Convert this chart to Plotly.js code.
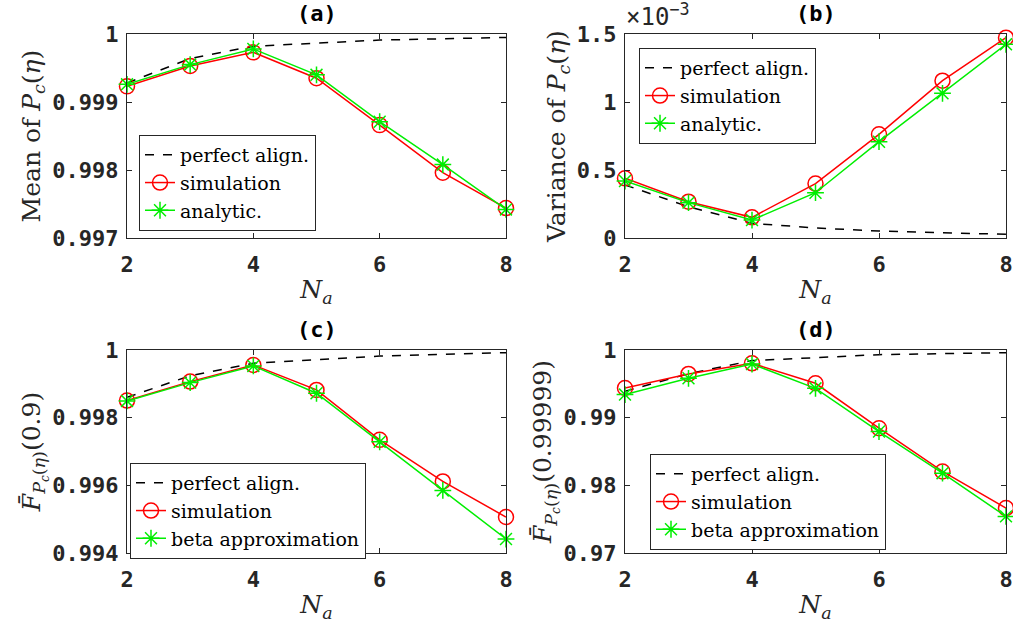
<!DOCTYPE html>
<html><head><meta charset="utf-8">
<script src="https://cdn.plot.ly/plotly-3.0.1.min.js"></script>
<style>html,body{margin:0;padding:0;background:#fff}</style>
</head><body><div id="chart" style="width:1013px;height:628px"></div>
<script>
const Na = [2, 3, 4, 5, 6, 7, 8];
const xTicks = [2, 4, 6, 8];

// (a) Mean of Pc(eta)
const meanPerfect = [0.99928, 0.99964, 0.99982, 0.99987, 0.99991, 0.99993, 0.99995];
const meanSim     = [0.99923, 0.99953, 0.99973, 0.99935, 0.99866, 0.99796, 0.99744];
const meanAna     = [0.99926, 0.99955, 0.99978, 0.99940, 0.99871, 0.99808, 0.99742];
const meanTicks = [0.997, 0.998, 0.999, 1];
const meanTickText = ['0.997', '0.998', '0.999', '1'];

// (b) Variance of Pc(eta), in units of 1e-3
const varPerfect = [0.39, 0.23, 0.108, 0.074, 0.051, 0.039, 0.027];
const varSim     = [0.439, 0.267, 0.152, 0.40, 0.762, 1.157, 1.473];
const varAna     = [0.419, 0.26, 0.132, 0.333, 0.708, 1.064, 1.424];
const varTicks = [0, 0.5, 1, 1.5];
const varTickText = ['0', '0.5', '1', '1.5'];

// (c) F-bar(0.9)
const f09Perfect = [0.99860, 0.99924, 0.99961, 0.99971, 0.99982, 0.99987, 0.99992];
const f09Sim     = [0.998505, 0.999066, 0.999557, 0.99882, 0.997344, 0.996115, 0.995063];
const f09Beta    = [0.998495, 0.999036, 0.999528, 0.998721, 0.997285, 0.995849, 0.994413];
const f09Ticks = [0.994, 0.996, 0.998, 1];
const f09TickText = ['0.994', '0.996', '0.998', '1'];

// (d) F-bar(0.99999)
const fhiPerfect = [0.9939, 0.9965, 0.99843, 0.99887, 0.99931, 0.99946, 0.99961];
const fhiSim     = [0.99439, 0.99646, 0.99803, 0.99508, 0.98844, 0.98205, 0.97664];
const fhiBeta    = [0.99341, 0.99582, 0.99793, 0.99434, 0.98795, 0.98180, 0.97541];
const fhiTicks = [0.97, 0.98, 0.99, 1];
const fhiTickText = ['0.97', '0.98', '0.99', '1'];

const panelTitles = ['(a)', '(b)', '(c)', '(d)'];
const legendNames = [
  ['perfect align.', 'simulation', 'analytic.'],
  ['perfect align.', 'simulation', 'analytic.'],
  ['perfect align.', 'simulation', 'beta approximation'],
  ['perfect align.', 'simulation', 'beta approximation']
];

const serif = 'DejaVu Serif, Liberation Serif, serif';
const mono = 'DejaVu Sans Mono, Liberation Mono, monospace';
const axCol = '#262626';

const panels = [
  {p: meanPerfect, s: meanSim, a: meanAna},
  {p: varPerfect, s: varSim, a: varAna},
  {p: f09Perfect, s: f09Sim, a: f09Beta},
  {p: fhiPerfect, s: fhiSim, a: fhiBeta}
];

const traces = [];
panels.forEach((pn, i) => {
  const xa = 'x' + (i === 0 ? '' : i + 1);
  const ya = 'y' + (i === 0 ? '' : i + 1);
  const lg = 'legend' + (i === 0 ? '' : i + 1);
  traces.push({x: Na, y: pn.p, xaxis: xa, yaxis: ya, legend: lg, name: legendNames[i][0],
    mode: 'lines', line: {color: '#000', width: 1.5, dash: 'dash'}, cliponaxis: false});
  traces.push({x: Na, y: pn.s, xaxis: xa, yaxis: ya, legend: lg, name: legendNames[i][1],
    mode: 'lines+markers', line: {color: '#ff0000', width: 1.5},
    marker: {symbol: 'circle-open', size: 15, color: '#ff0000', line: {width: 1.5, color: '#ff0000'}}, cliponaxis: false});
  traces.push({x: Na, y: pn.a, xaxis: xa, yaxis: ya, legend: lg, name: legendNames[i][2],
    mode: 'lines+markers', line: {color: '#00ee00', width: 1.5},
    marker: {symbol: 'asterisk-open', size: 14, color: '#00ee00', line: {width: 1.5, color: '#00ee00'}}, cliponaxis: false});
});

const W = 1013, H = 628;
const colX = [[127, 506], [625, 1006]];
const rowY = [[34, 238], [350, 553]];
function dom(px, total, flip) {
  return flip ? [1 - px[1] / total, 1 - px[0] / total] : [px[0] / total, px[1] / total];
}

function xAxis(i) {
  const c = i % 2, r = Math.floor(i / 2);
  return {
    domain: dom(colX[c], W), anchor: 'y' + (i === 0 ? '' : i + 1), range: [2, 8],
    tickvals: xTicks, ticks: 'inside', ticklen: 5, tickcolor: axCol, mirror: 'ticks',
    showline: true, linecolor: axCol, linewidth: 1, showgrid: false, zeroline: false,
    tickfont: {family: mono, size: 22, color: axCol, weight: 'bold'}, ticklabelstandoff: 7,
    title: {text: '<i>N</i><sub><i>a</i></sub>', font: {family: serif, size: 25, color: axCol}, standoff: 4}
  };
}
const yTitles = [
  'Mean of <i>P</i><sub><i>c</i></sub>(<i>η</i>)',
  'Variance of <i>P</i><sub><i>c</i></sub>(<i>η</i>)',
  '<i>F̄</i><sub><i>P</i><sub><i>c</i></sub>(<i>η</i>)</sub>(0.9)',
  '<i>F̄</i><sub><i>P</i><sub><i>c</i></sub>(<i>η</i>)</sub>(0.99999)'
];
const yRanges = [[0.997, 1], [0, 1.5], [0.994, 1], [0.97, 1]];
const yTickVals = [meanTicks, varTicks, f09Ticks, fhiTicks];
const yTickTexts = [meanTickText, varTickText, f09TickText, fhiTickText];
function yAxis(i) {
  const c = i % 2, r = Math.floor(i / 2);
  return {
    domain: dom(rowY[r], H, true), anchor: 'x' + (i === 0 ? '' : i + 1), range: yRanges[i],
    tickvals: yTickVals[i], ticktext: yTickTexts[i], ticks: 'inside', ticklen: 5, tickcolor: axCol,
    mirror: 'ticks', showline: true, linecolor: axCol, linewidth: 1, showgrid: false, zeroline: false,
    tickfont: {family: mono, size: 22, color: axCol, weight: 'bold'}, ticklabelstandoff: 3,
    title: {text: yTitles[i], font: {family: serif, size: 25, color: axCol}, standoff: 4}
  };
}

const legPos = [[139, 135], [639, 48], [130, 463], [650, 454]];
const layout = {
  width: W, height: H, margin: {l: 0, r: 0, t: 0, b: 0},
  paper_bgcolor: '#fff', plot_bgcolor: '#fff', showlegend: true,
  annotations: []
};
for (let i = 0; i < 4; i++) {
  const sfx = i === 0 ? '' : String(i + 1);
  layout['xaxis' + sfx] = xAxis(i);
  layout['yaxis' + sfx] = yAxis(i);
  layout['legend' + sfx] = {
    x: legPos[i][0] / W, y: 1 - legPos[i][1] / H, xanchor: 'left', yanchor: 'top',
    xref: 'paper', yref: 'paper', bgcolor: '#fff', bordercolor: axCol, borderwidth: 1,
    font: {family: serif, size: 19, color: '#000'}, itemwidth: 30, tracegroupgap: 0
  };
  const c = i % 2, r = Math.floor(i / 2);
  layout.annotations.push({
    text: '<b>' + panelTitles[i] + '</b>', xref: 'paper', yref: 'paper',
    x: (colX[c][0] + colX[c][1]) / 2 / W, y: 1 - (rowY[r][0] - 6) / H,
    xanchor: 'center', yanchor: 'bottom', showarrow: false,
    font: {family: mono, size: 22, color: '#000'}
  });
}
layout.annotations.push({
  text: '×10<sup>−3</sup>', xref: 'paper', yref: 'paper',
  x: 624 / W, y: 1 - 33 / H, xanchor: 'left', yanchor: 'bottom', showarrow: false,
  font: {family: mono, size: 24, color: axCol}
});

Plotly.newPlot('chart', traces, layout, {displayModeBar: false, staticPlot: true});
</script>
</body></html>
